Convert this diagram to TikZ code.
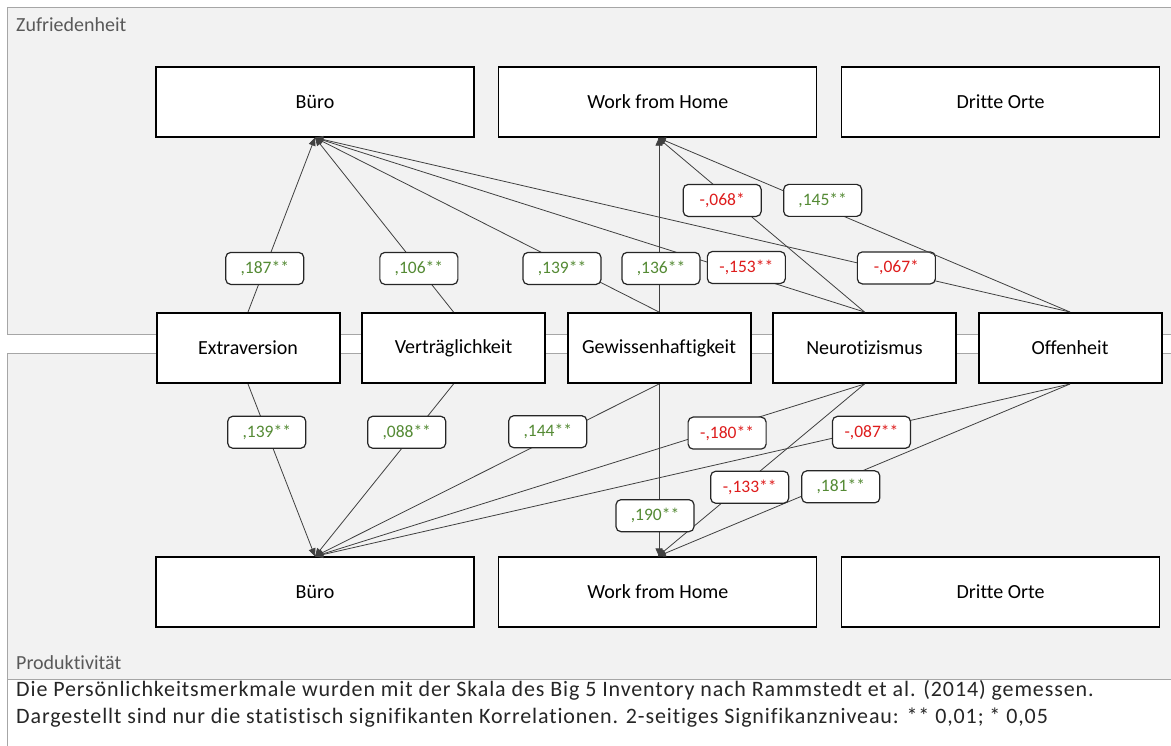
\documentclass[tikz,border=0pt]{standalone}
\usepackage{fontspec}
\setmainfont{Carlito}[Ligatures={NoCommon}]
\newfontfamily\notefont{Carlito}[Ligatures={NoCommon}, LetterSpace=4]
\usetikzlibrary{arrows.meta, positioning}

\definecolor{corrgreen}{RGB}{84,138,52}
\definecolor{corrred}{RGB}{222,28,28}

\begin{document}
\begin{tikzpicture}[
  x=1pt, y=-1pt,
  font=\fontsize{20}{24}\selectfont, >={Triangle[length=8pt, width=7pt]},
  panel/.style={draw=black!35, fill=black!5, line width=1pt},
  place/.style={draw=black, fill=white, line width=1.3pt, inner sep=0pt,
                minimum width=318pt, minimum height=70pt},
  trait/.style={place, line width=2pt, minimum width=183pt},
  corr/.style={draw=black!85, fill=white, rounded corners=5pt, line width=1.2pt,
               minimum width=78pt, minimum height=32pt, inner sep=0pt,
               font=\fontsize{17.5}{20}\selectfont},
  plus/.style={corr, text=corrgreen},
  minus/.style={corr, text=corrred},
  arr/.style={->, line width=0.8pt, black!75},
  caption/.style={anchor=west, inner sep=0pt, text=black!65},
]
\useasboundingbox (0,0) rectangle (1171,745);
\clip (0,0) rectangle (1171,745);

% ---- the two panels and the note below ----
\draw[panel] (7,7) rectangle (1185,334);
\draw[panel] (7,353) rectangle (1185,679);
\draw[draw=black!35, fill=white, line width=1pt] (7,679) rectangle (1185,760);
\node[caption] (zlab) at (16,25) {Zufriedenheit};
\node[caption] (plab) at (16,663) {Produktivität};
\node[caption, text=black!85, align=left, font=\notefont\fontsize{22}{27}\selectfont]
  (note) at (16,704) {Die Persönlichkeitsmerkmale  wurden mit der Skala des Big 5 Inventory nach Rammstedt et al. (2014) gemessen.\\
  Dargestellt sind nur die statistisch signifikanten Korrelationen. 2-seitiges Signifikanzniveau: ** 0,01; * 0,05};

% ---- places: satisfaction (top) ----
\node[place] (zB) at (315,102) {Büro};
\node[place, right=23.5pt of zB] (zW) {Work from Home};
\node[place, right=23.5pt of zW] (zD) {Dritte Orte};

% ---- big five traits ----
\node[trait] (ext) at (248,348) {Extraversion};
\node[trait, right=20.5pt of ext]  (vert) {Verträglichkeit};
\node[trait, right=20.5pt of vert] (gew)  {Gewissenhaftigkeit};
\node[trait, right=20.5pt of gew]  (neu)  {Neurotizismus};
\node[trait, right=20.5pt of neu]  (off)  {Offenheit};

% ---- places: productivity (bottom) ----
\node[place] (pB) at (315,592) {Büro};
\node[place, right=23.5pt of pB] (pW) {Work from Home};
\node[place, right=23.5pt of pW] (pD) {Dritte Orte};

% ---- correlations with Zufriedenheit ----
\draw[arr] (ext.north)  -- node[plus, pos=.25] {,187**} (zB.south);
\draw[arr] (vert.north) -- node[plus, pos=.25] {,106**} (zB.south);
\draw[arr] (gew.north)  -- node[plus, pos=.25, xshift=-11pt] {,139**} (zB.south);
\draw[arr] (neu.north)  -- node[minus, pos=.215, yshift=7pt] {-,153**} (zB.south);
\draw[arr] (off.north)  -- node[minus, pos=.23, yshift=4pt] {-,067*} (zB.south);
\draw[arr] (off.north)  -- node[plus, pos=.6, yshift=7pt] {,145**} (zW.south);
\draw[arr] (neu.north)  -- node[minus, pos=.64, xshift=-10pt] {-,068*} (zW.south);
\draw[arr] (gew.north)  -- node[plus, pos=.25, xshift=2pt] {,136**} (gew.north |- zW.south);

% ---- correlations with Produktivität ----
\draw[arr] (ext.south)  -- node[plus, pos=.28] {,139**} (pB.north);
\draw[arr] (vert.south) -- node[plus, pos=.28, xshift=-8pt] {,088**} (pB.north);
\draw[arr] (gew.south)  -- node[plus, pos=.3, xshift=-8pt, yshift=4pt] {,144**} (pB.north);
\draw[arr] (neu.south)  -- node[minus, pos=.25, yshift=-6pt] {-,180**} (pB.north);
\draw[arr] (off.south)  -- node[minus, pos=.263, yshift=-3pt] {-,087**} (pB.north);
\draw[arr] (off.south)  -- node[plus, pos=.556, yshift=-7pt] {,181**} (pW.north);
\draw[arr] (neu.south)  -- node[minus, pos=.57, xshift=3pt, yshift=-5pt] {-,133**} (pW.north);
\draw[arr] (gew.south)  -- node[plus, pos=.764, xshift=-4pt] {,190**} (gew.south |- pW.north);

\end{tikzpicture}
\end{document}
